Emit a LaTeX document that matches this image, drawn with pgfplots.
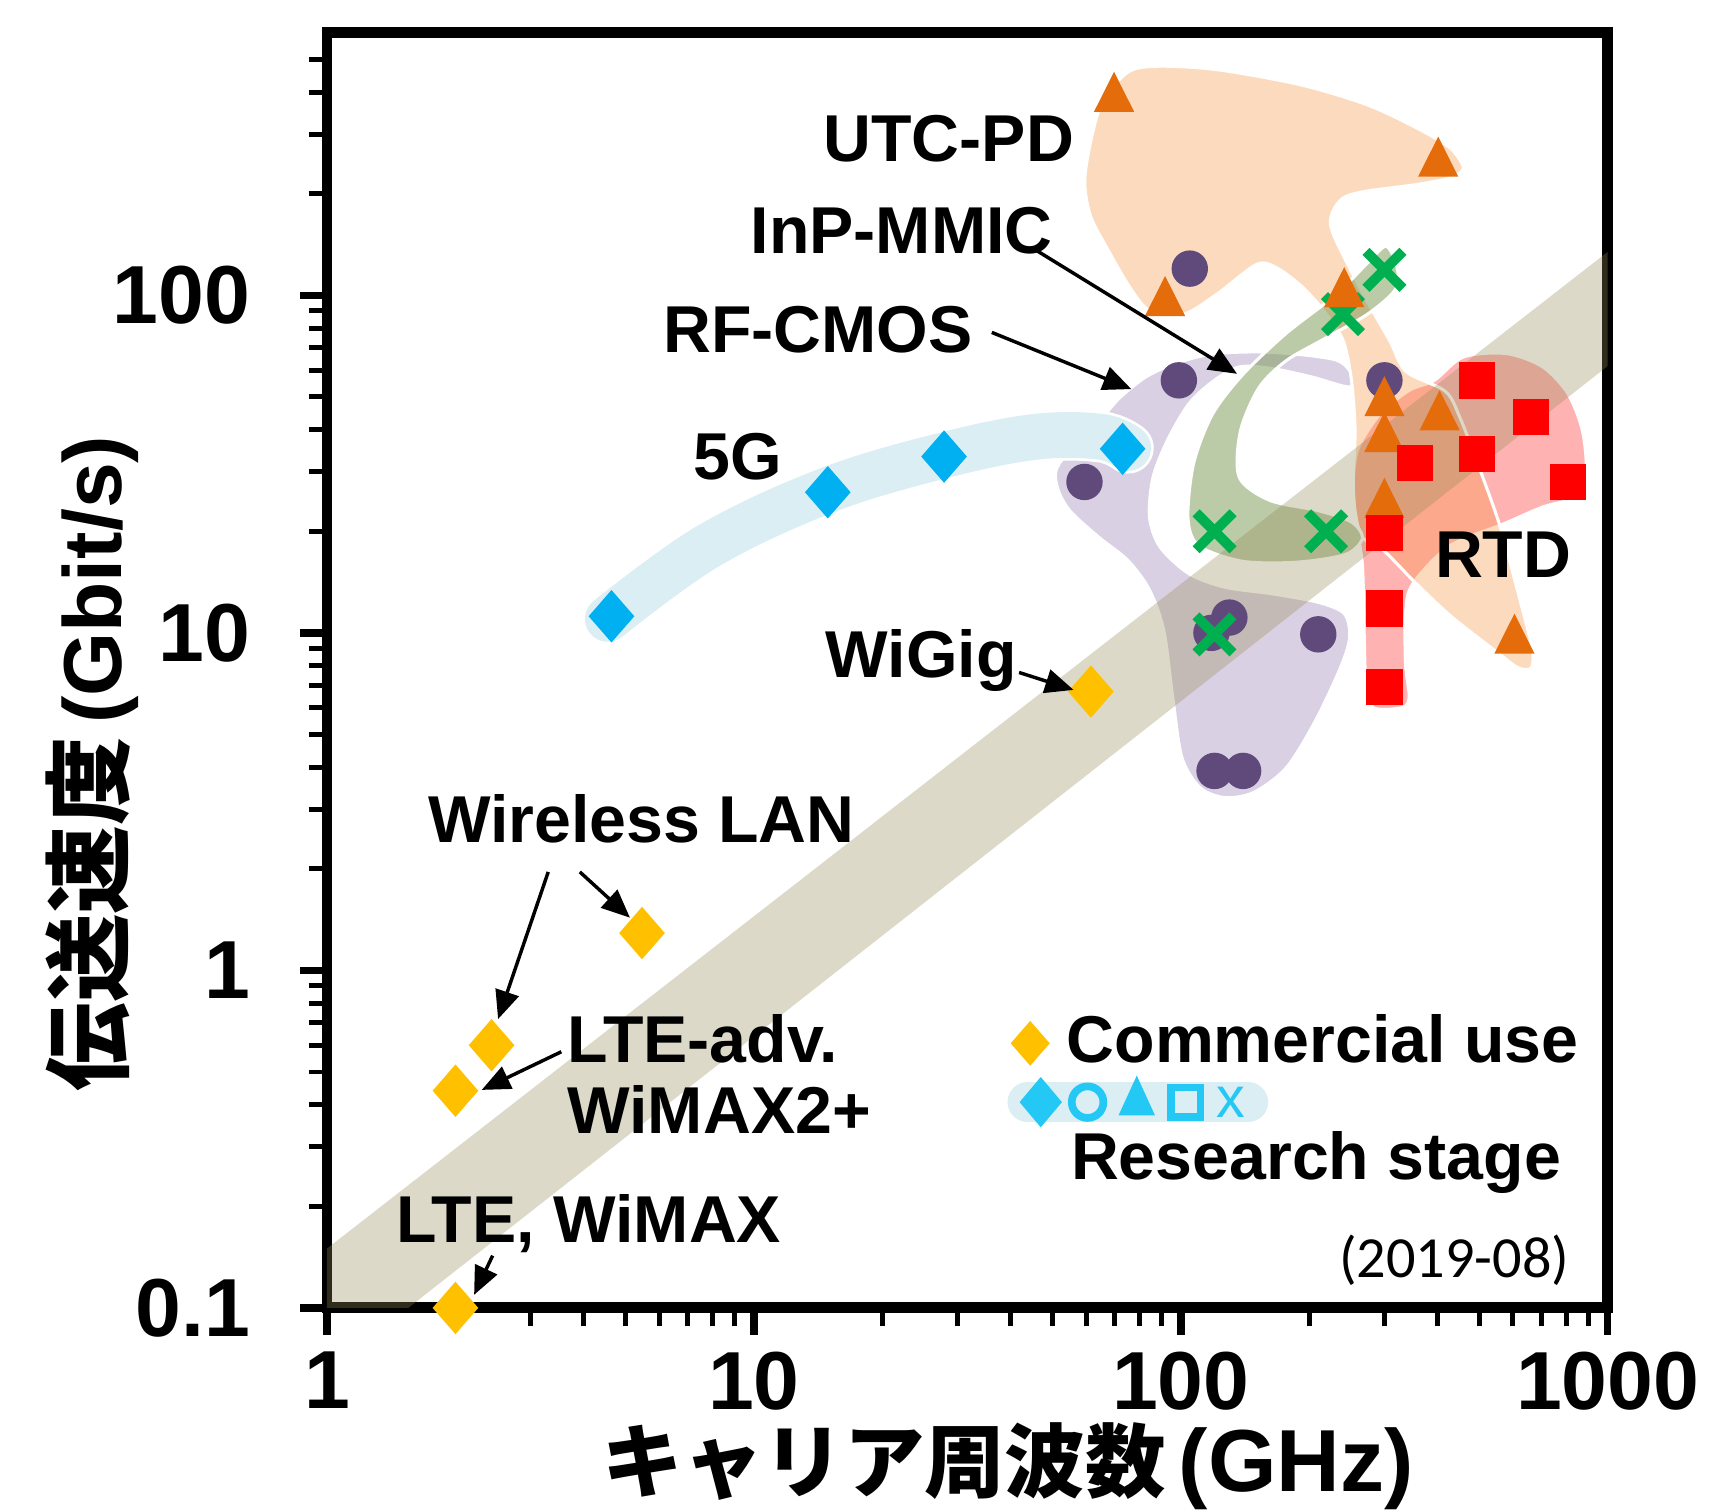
\documentclass[border=0pt]{standalone}
\usepackage{fontspec}
\setmainfont{Liberation Sans}
\newfontfamily\cjk{Noto Sans CJK JP}
\newfontfamily\carlito{Carlito}
\usepackage{pgfplots}
\pgfplotsset{compat=1.18}
\usetikzlibrary{arrows.meta}
\definecolor{cYellow}{HTML}{FFC000}
\definecolor{cBlue}{HTML}{00B0F0}
\definecolor{cPurple}{HTML}{604A7B}
\definecolor{cGreen}{HTML}{00B050}
\definecolor{cOrange}{HTML}{E46C0A}
\definecolor{cRed}{HTML}{FF0000}
\definecolor{fPurple}{HTML}{8064A2}
\definecolor{fBlue}{RGB}{218,238,243}
\definecolor{fGreen}{RGB}{120,150,80}
\definecolor{fOrange}{HTML}{F79646}
\definecolor{fBand}{HTML}{948A54}
\definecolor{cCyan}{RGB}{35,200,245}
\newcommand{\pp}[2]{({(#1-300)*0.1mm},{(1200-#2)*0.1mm})}
\newcommand{\lab}{\fontsize{17.3}{17.3}\selectfont\bfseries}
\begin{document}
\begin{tikzpicture}
\begin{axis}[
  at={(0,0)}, anchor=south west,
  scale only axis, width=117.5mm, height=117mm,
  xmode=log, ymode=log,
  xmin=1, xmax=1000, ymin=0.1, ymax=600,
  axis line style={line width=1mm},
  tick align=outside, tick pos=left,
  xtick={1,10,100,1000}, xticklabels={1,10,100,1000},
  ytick={0.1,1,10,100}, yticklabels={0.1,1,10,100},
  minor xtick={2,3,4,5,6,7,8,9,20,30,40,50,60,70,80,90,200,300,400,500,600,700,800,900},
  minor ytick={0.2,0.3,0.4,0.5,0.6,0.7,0.8,0.9,2,3,4,5,6,7,8,9,20,30,40,50,60,70,80,90,200,300,400,500},
  major tick length=2.5mm, minor tick length=1.7mm,
  major tick style={line width=2pt, black},
  minor tick style={line width=1.3pt, black},
  ticklabel style={font=\fontsize{21.5}{21.5}\selectfont\bfseries},
  /pgf/number format/assume math mode=true,
  xticklabel style={inner sep=0pt, yshift=-1.5mm},
  yticklabel style={inner sep=0pt, xshift=-4.5mm},
  xlabel={{\cjk\fontsize{21}{21}\selectfont キャリア周波数}\hspace{1.2mm}{\fontsize{23}{23}\selectfont (GHz)}},
  ylabel={{\cjk\fontsize{23.1}{23.1}\selectfont 伝送速度}\hspace{1.2mm}{\fontsize{21.5}{21.5}\selectfont (Gbit/s)}},
  label style={font=\bfseries},
  xlabel style={at={(axis description cs:0.532,-0.124)}, anchor=center, inner sep=0pt},
  ylabel style={at={(axis description cs:-0.183,0.427)}, anchor=center, inner sep=0pt},
]
% ---- shaded regions ----
% RF-CMOS (purple)
\addplot[smooth cycle, tension=0.5, fill=fPurple, fill opacity=0.3, draw=white, line width=0.8pt] coordinates {
 (51.9,31.7) (51.4,27.0) (55.0,23.0) (64.3,19.2) (75.2,16.4) (84.5,13.4) (91.3,10.15) (95.8,6.44) (100.6,4.28) (110.9,3.48)
 (127,3.25) (148.5,3.37) (176.9,3.99) (206.8,5.49) (236.8,7.90) (248.7,9.71) (241.6,11.4) (210.8,12.3) (163.8,13.05) (127.1,13.65)
 (104.6,14.96) (89.5,17.94) (84.5,22.0) (86.1,28.9) (93.1,37.2) (104.6,47.8) (119.9,56.0) (137.4,61.4) (163.8,60.7) (202.8,57.3)
 (248.7,53.5) (251.2,58.6) (232.3,64.2) (187.6,66.9) (148.5,68.0) (117.6,66.9) (96.8,62.8) (82.8,57.3) (72.3,50.0) (65.6,43.6)};
% 5G band
\addplot[smooth, tension=0.6, line width=4.7mm, color=white, line cap=round] coordinates {
 (4.55,11.0) (7.83,18.1) (14.9,26.5) (27.9,33.6) (45.7,38.1) (65.0,38.1) (75.3,35.3)};
\addplot[smooth, tension=0.6, line width=4.2mm, color=fBlue, line cap=round] coordinates {
 (4.55,11.0) (7.83,18.1) (14.9,26.5) (27.9,33.6) (45.7,38.1) (65.0,38.1) (75.3,35.3)};
% RTD (red)
\addplot[smooth cycle, tension=0.5, fill=cRed, fill opacity=0.3, draw=white, line width=0.8pt] coordinates {
 (392.7,56.0) (459.2,65.7) (579.8,67.2) (704.5,61.4) (807.4,51.1) (872.5,39.8) (889.7,30.3) (839.2,25.3) (704.5,23.6) (568.7,21.0)
 (426.4,18.1) (349.5,13.97) (336.2,11.4) (336.2,8.08) (343,6.44) (329.8,6.01) (282.2,6.01) (271.5,7.21) (268.9,10.15) (266.3,16.0)
 (256.1,22.0) (253.6,28.3) (261.1,35.5) (293.6,44.6) (343,52.3)};
% UTC-PD (orange)
\addplot[smooth cycle, tension=0.5, fill=fOrange, fill opacity=0.35, draw=white, line width=0.8pt] coordinates {
 (59.7,228.1) (64.6,358.7) (74.7,455.8) (87.8,477.2) (121.4,466.4) (190.3,421.0) (272.6,367.4) (357.0,313.4) (427.4,273.4) (459.2,238.6)
 (427.4,222.9) (357.0,213.0) (272.6,203.6) (240.4,194.5) (225.7,173.7) (227.8,151.5) (267.8,100.7) (309.1,73.2) (337.0,59.5) (416.5,52.0)
 (450.3,43.6) (496.3,31.7) (557.7,21.0) (614.5,13.4) (664.6,9.06) (662.6,7.88) (617.4,7.88) (557.7,8.66) (433.2,11.1) (356.6,13.97)
 (299.3,17.5) (266.3,19.2) (256.1,23.0) (253.6,28.9) (256.1,39.8) (251.2,56.0) (240.4,73.2) (219.6,87.8) (193.7,105.3) (167.8,120.6)
 (150.6,123.5) (121.4,100.7) (101.4,87.8) (84.7,89.9) (76.1,105.3) (67.1,138.4) (61.3,173.7)};
% InP-MMIC (green)
\addplot[smooth cycle, tension=0.5, fill=fGreen, fill opacity=0.5, draw=white, line width=0.8pt] coordinates {
 (303.1,139.7) (321.5,120.4) (317.8,103.8) (274.4,88.1) (216.8,74.3) (176.5,64.0) (152.4,53.2) (137.9,39.5) (137.1,28.9) (161.6,24.7)
 (210.6,23.0) (251.2,21.3) (266.4,19.1) (243.9,17.1) (187.3,16.2) (139.5,16.3) (110.3,18.1) (104.0,21.8) (107.1,31.6) (118.4,44.2)
 (139.5,58.1) (176.5,77.1) (229.9,100) (274.4,125.0)};
% trend band (grey)
\addplot[fill=fBand, fill opacity=0.32, draw=none] coordinates {
 (0.5,0.0758) (2000,266) (2000,122.8) (0.5,0.0325)};
% legend band
\addplot[line width=3.7mm, color=fBlue, line cap=round] coordinates {(43.8,0.407) (143.7,0.407)};
% ---- markers ----
% RF-CMOS
\addplot[only marks, mark=*, mark size=1.6mm, color=cPurple] coordinates {
 (105,120) (99,56) (59.5,28) (300,56) (130,11.1) (118,10) (210,9.9) (120,3.9) (140,3.9)};
% InP-MMIC
\addplot[only marks, mark=x, mark size=2.4mm, color=cGreen, mark options={line width=2.6pt}] coordinates {
 (300,119) (240,88) (120,20) (219,20) (120,9.9)};
% UTC-PD
\addplot[only marks, mark=triangle*, mark size=2mm, color=cOrange, mark options={yscale=1.15}] coordinates {
 (69.8,383) (401,246) (91.9,95.1) (241.5,101) (300,48) (300,37.6) (300,24) (404,43.6) (605,9.5)};
% RTD
\addplot[only marks, mark=square*, mark size=1.6mm, color=cRed] coordinates {
 (495,56) (661,43.6) (354,31.9) (495,33.9) (807,28) (300,19.8) (300,11.8) (300,6.9)};
% 5G
\addplot[only marks, mark=diamond*, mark size=2.3mm, color=cBlue, mark options={xscale=1.16}] coordinates {
 (4.64,11.2) (14.9,26.1) (27.9,33.3) (73.1,35.1)};
% Commercial
\addplot[only marks, mark=diamond*, mark size=2.3mm, color=cYellow, mark options={xscale=1.16}] coordinates {
 (2,0.1) (2,0.44) (2.43,0.6) (5.47,1.29) (61.6,6.7)};
% legend symbols
\addplot[only marks, mark=diamond*, mark size=1.95mm, color=cYellow, mark options={xscale=1.16}] coordinates {(44.4,0.608)};
\addplot[only marks, mark=diamond*, mark size=2.2mm, color=cCyan, mark options={xscale=1.12}] coordinates {(47.0,0.407)};
\addplot[only marks, mark=o, mark size=1.45mm, color=cCyan, mark options={line width=2pt}] coordinates {(60.5,0.407)};
\addplot[only marks, mark=triangle*, mark size=1.8mm, color=cCyan, mark options={yscale=1.26}] coordinates {(78.9,0.407)};
\addplot[only marks, mark=square, mark size=1.35mm, color=cCyan, mark options={line width=2pt}] coordinates {(102.8,0.407)};
\end{axis}
% ---- annotations ----
\begin{scope}[every node/.style={inner sep=0pt, anchor=base west, font=\lab}]
\node at \pp{755}{148} {UTC-PD};
\node at \pp{688}{233} {InP-MMIC};
\node at \pp{608}{323} {RF-CMOS};
\node at \pp{636}{440} {5G};
\node at \pp{757}{622} {WiGig};
\node at \pp{392}{773} {Wireless LAN};
\node at \pp{520}{975} {LTE-adv.};
\node at \pp{520}{1040} {WiMAX2+};
\node at \pp{363}{1140} {LTE, WiMAX};
\node at \pp{1316}{530} {RTD};
\node at \pp{978}{975} {Commercial use};
\node at \pp{982}{1082} {Research stage};
\node[font=\carlito\fontsize{15.2}{15.2}\selectfont] at \pp{1228}{1172} {(2019-08)};
\node[anchor=base, font=\fontsize{15}{15}\selectfont, text=cCyan] at \pp{1129}{1025} {x};
\end{scope}
\begin{scope}[line width=0.9pt, -{Triangle[length=2.6mm,width=2.2mm]}]
\draw \pp{948}{228} -- \pp{1135}{343};
\draw \pp{910}{305} -- \pp{1038}{357};
\draw \pp{935}{617} -- \pp{985}{633};
\draw \pp{503}{800} -- \pp{457}{935};
\draw \pp{532}{800} -- \pp{578}{842};
\draw \pp{515}{965} -- \pp{442}{1000};
\draw \pp{452}{1152} -- \pp{435}{1188};
\end{scope}
\pgfresetboundingbox
\path[use as bounding box] \pp{0}{0} rectangle \pp{1568}{1387};
\end{tikzpicture}
\end{document}
